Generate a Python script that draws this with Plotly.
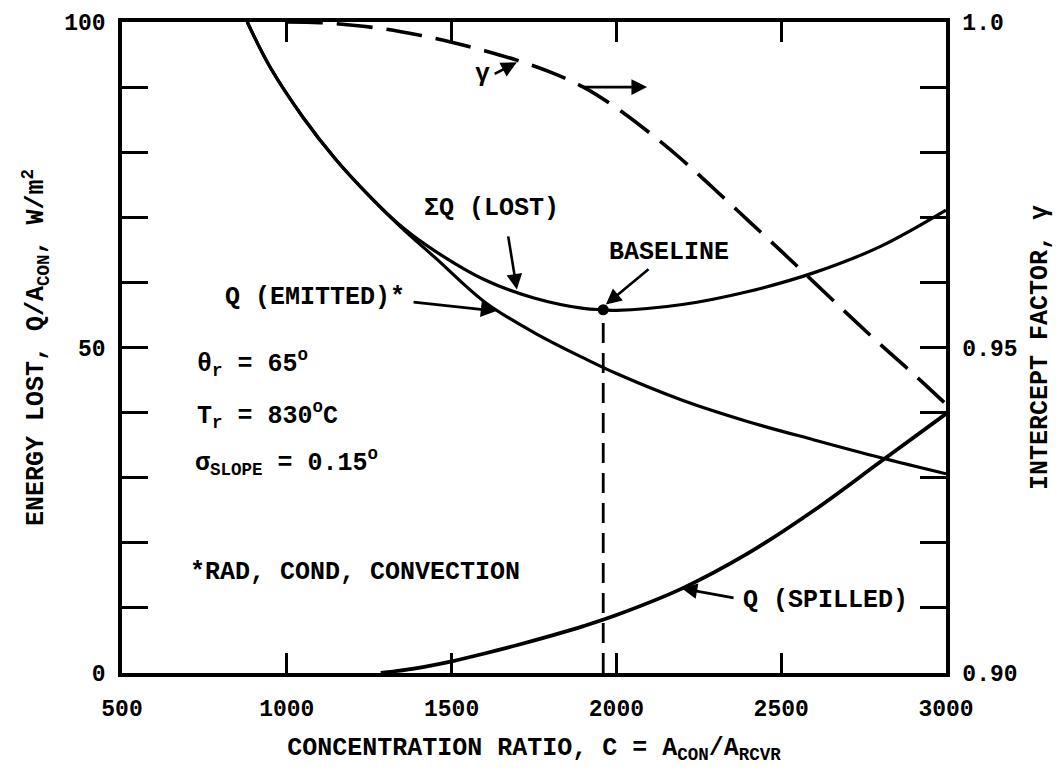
import plotly.graph_objects as go

# ---- data -------------------------------------------------------------
# Concentration ratio C = A_CON / A_RCVR for each curve
c_emitted = [880, 950, 1050, 1150, 1250, 1350, 1450, 1600, 1750, 1900, 2000, 2200, 2400, 2600, 2800, 3000]
q_emitted = [100, 93.0, 85.3, 78.8, 73.3, 68.3, 63.8, 57.0, 52.3, 48.4, 46.0, 41.9, 38.6, 35.8, 33.1, 30.6]

c_spilled = [1285, 1400, 1500, 1600, 1700, 1800, 1900, 2000, 2200, 2400, 2600, 2800, 3000]
q_spilled = [0.0, 0.8, 1.8, 3.0, 4.3, 5.7, 7.2, 8.9, 13.0, 18.4, 25.0, 32.4, 39.8]

c_lost = [880, 950, 1050, 1150, 1250, 1350, 1450, 1600, 1750, 1900, 1960, 2000, 2200, 2400, 2600, 2800, 3000]
q_lost = [100, 93.0, 85.3, 78.8, 73.3, 68.5, 64.8, 60.4, 57.6, 56.0, 55.8, 55.7, 56.6, 58.6, 61.5, 65.5, 71.1]

# Intercept factor (right axis)
c_gamma = [1000, 1100, 1200, 1300, 1400, 1500, 1600, 1700, 1800, 1900, 2000,
           2100, 2200, 2300, 2400, 2500, 2600, 2700, 2800, 2900, 3000]
gamma = [1.0000, 0.9999, 0.9995, 0.9989, 0.9980, 0.9969, 0.9956, 0.9941, 0.9923, 0.9900, 0.9868,
         0.9830, 0.9788, 0.9742, 0.9695, 0.9648, 0.9600, 0.9552, 0.9505, 0.9460, 0.9413]

# Baseline design point (minimum total loss)
baseline_c = 1960
baseline_q = 55.8

# Axis ticks
x_tick_vals = [500, 1000, 1500, 2000, 2500, 3000]
x_tick_text = ["500", "1000", "1500", "2000", "2500", "3000"]
y_tick_vals = [0, 10, 20, 30, 40, 50, 60, 70, 80, 90, 100]
y_tick_text = ["0", "", "", "", "", "50", "", "", "", "", "100"]
y2_tick_vals = [0.90, 0.91, 0.92, 0.93, 0.94, 0.95, 0.96, 0.97, 0.98, 0.99, 1.00]
y2_tick_text = ["0.90", "", "", "", "", "0.95", "", "", "", "", "1.0"]

# ---- styling ----------------------------------------------------------
FONT = "Liberation Mono"
INK = "black"
TXT = dict(family=FONT, size=25, color=INK, weight=700)
TICKFONT = dict(family=FONT, size=23, color=INK, weight=700)

fig = go.Figure()

solid = dict(color=INK, width=3.2, shape="spline", smoothing=1.0)

fig.add_trace(go.Scatter(x=c_emitted, y=q_emitted, mode="lines", line=solid,
                         name="Q (EMITTED)", hoverinfo="skip"))
fig.add_trace(go.Scatter(x=c_lost, y=q_lost, mode="lines", line=solid,
                         name="ΣQ (LOST)", hoverinfo="skip"))
fig.add_trace(go.Scatter(x=c_spilled, y=q_spilled, mode="lines",
                         line=dict(color=INK, width=3.8, shape="spline", smoothing=1.0),
                         name="Q (SPILLED)", hoverinfo="skip"))
fig.add_trace(go.Scatter(x=c_gamma, y=gamma, mode="lines", yaxis="y2",
                         line=dict(color=INK, width=3.6, dash="36px,14px", shape="spline", smoothing=1.0),
                         name="γ", hoverinfo="skip"))

# dashed drop line and dot at the baseline point
fig.add_trace(go.Scatter(x=[baseline_c, baseline_c], y=[0, baseline_q], mode="lines",
                         line=dict(color=INK, width=2.8, dash="20px,10px"),
                         hoverinfo="skip", showlegend=False))
fig.add_trace(go.Scatter(x=[baseline_c], y=[baseline_q], mode="markers",
                         marker=dict(color=INK, size=11), hoverinfo="skip", showlegend=False))


def arrow(x_tail, y_tail, x_head, y_head):
    fig.add_annotation(x=x_head, y=y_head, ax=x_tail, ay=y_tail,
                       xref="x", yref="y", axref="x", ayref="y",
                       text="", showarrow=True, arrowhead=2, arrowsize=1.2,
                       arrowwidth=2.6, arrowcolor=INK, standoff=0, startstandoff=0)


def label(x, y, text, xanchor="center", size=25):
    fig.add_annotation(x=x, y=y, xref="x", yref="y", text=text, showarrow=False,
                       xanchor=xanchor, yanchor="middle",
                       font=dict(TXT, size=size))


# curve labels with leader arrows
label(1595, 91.9, "γ")
arrow(1626, 91.9, 1698, 93.8)
arrow(1893, 90.0, 2093, 90.0)

label(1620, 71.3, "ΣQ (LOST)")
arrow(1671, 67.3, 1698, 58.9)

label(2161, 64.6, "BASELINE")
arrow(2102, 62.2, 1968, 56.6)

label(1086, 57.7, "Q (EMITTED)*")
arrow(1380, 57.0, 1636, 55.6)

label(2633, 11.1, "Q (SPILLED)")
arrow(2360, 11.5, 2198, 13.0)

# operating parameters
label(721, 47.6, "θ<sub>r</sub> = 65<sup>o</sup>", xanchor="left")
label(721, 39.6, "T<sub>r</sub> = 830<sup>o</sup>C", xanchor="left")
label(715, 32.4, "σ<sub>SLOPE</sub> = 0.15<sup>o</sup>", xanchor="left")
label(700, 15.4, "*RAD, COND, CONVECTION", xanchor="left")

axis_common = dict(showline=True, linecolor=INK, linewidth=3.5, ticks="inside",
                   tickcolor=INK, showgrid=False, zeroline=False, tickfont=TICKFONT)

fig.update_layout(
    width=1060, height=772,
    margin=dict(l=122, r=114, t=22, b=99),
    paper_bgcolor="white", plot_bgcolor="white",
    showlegend=False,
    xaxis=dict(axis_common, range=[500, 3000], tickvals=x_tick_vals, ticktext=x_tick_text,
               ticklen=20, tickwidth=2.5, mirror="ticks", ticklabelstandoff=12,
               title=dict(text="CONCENTRATION RATIO, C = A<sub>CON</sub>/A<sub>RCVR</sub>",
                          font=TXT, standoff=16)),
    yaxis=dict(axis_common, range=[0, 100], tickvals=y_tick_vals, ticktext=y_tick_text,
               ticklen=26, tickwidth=3.2, ticklabelstandoff=8,
               title=dict(text="ENERGY LOST, Q/A<sub>CON</sub>, W/m<sup>2</sup>",
                          font=TXT, standoff=14)),
    yaxis2=dict(axis_common, range=[0.90, 1.00], overlaying="y", side="right",
                tickvals=y2_tick_vals, ticktext=y2_tick_text,
                ticklen=26, tickwidth=3.2, ticklabelstandoff=8,
                title=dict(text="INTERCEPT FACTOR, γ", font=TXT, standoff=14)),
)

fig.write_html("out.html")
